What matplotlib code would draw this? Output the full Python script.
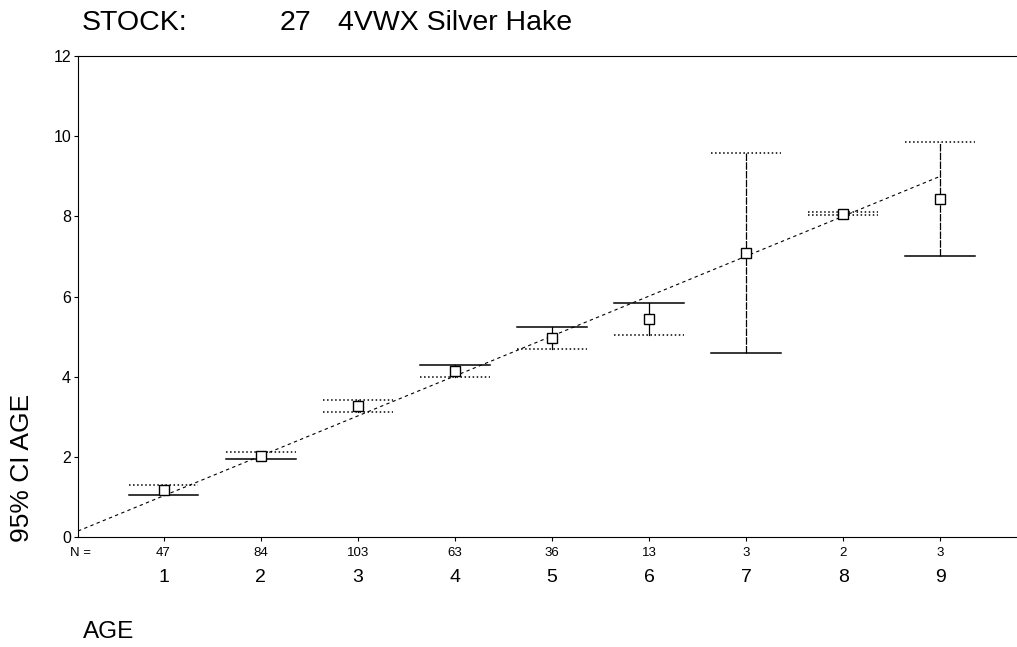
import matplotlib.pyplot as plt
import numpy as np

plt.rcParams['font.family'] = ['Liberation Sans', 'DejaVu Sans']

# Data
ages = [1, 2, 3, 4, 5, 6, 7, 8, 9]
n_counts = ["47", "84", "103", "63", "36", "13", "3", "2", "3"]
mean_age = [1.18, 2.03, 3.26, 4.13, 4.96, 5.43, 7.09, 8.07, 8.44]
ci_low = [1.05, 1.95, 3.13, 4.00, 4.68, 5.04, 4.58, 8.04, 7.00]
ci_high = [1.30, 2.11, 3.43, 4.28, 5.25, 5.83, 9.57, 8.10, 9.85]
# cap styles: upper, lower
upper_style = [":", ":", ":", "-", "-", "-", ":", ":", ":"]
lower_style = ["-", "-", ":", ":", ":", ":", "-", ":", "-"]
fit_x = [0.12, 9.0]
fit_y = [0.15, 9.0]

fig = plt.figure(figsize=(10.17, 6.47), dpi=100)
ax = fig.add_axes([0.0767, 0.170, 0.9233, 0.7434])

half = 0.36
for x, m, lo, hi, us, ls in zip(ages, mean_age, ci_low, ci_high, upper_style, lower_style):
    ax.plot([x, x], [lo, hi], color="black", lw=0.9, ls="-" if hi - lo < 1 else (0, (6, 1)))
    ax.plot([x - half, x + half], [hi, hi], color="black", lw=1.1, ls=us)
    ax.plot([x - half, x + half], [lo, lo], color="black", lw=1.1, ls=ls)
    ax.plot(x, m, marker="s", ms=7, mfc="white", mec="black", mew=1.0, zorder=5)

# regression line
ax.plot(fit_x, fit_y, color="black", lw=0.8, ls=(0, (3, 3)))

ax.set_xlim(0.119, 9.79)
ax.set_ylim(0, 12)
ax.set_yticks([0, 2, 4, 6, 8, 10, 12])
ax.set_xticks(ages)
ax.set_xticklabels([])
ax.tick_params(axis="y", labelsize=11.5, length=3, direction="out", pad=2)
ax.tick_params(axis="x", length=3, direction="out")
ax.spines["right"].set_visible(False)

for x, n in zip(ages, n_counts):
    ax.text(x, -0.25, n, ha="center", va="top", fontsize=9.5)
    ax.text(x, -0.8, str(x), ha="center", va="top", fontsize=14)
fig.text(70 / 1017, 1 - 553 / 647, "N =", ha="left", va="center", fontsize=9.5)

fig.text(82 / 1017, 0.964, "STOCK:", fontsize=20.5, va="center", ha="left")
fig.text(280 / 1017, 0.964, "27", fontsize=20.5, va="center", ha="left")
fig.text(338 / 1017, 0.964, "4VWX Silver Hake", fontsize=20.5, va="center", ha="left")
fig.text(83 / 1017, 1 - 632 / 647, "AGE", fontsize=17.5, va="center", ha="left")
fig.text(22 / 1017, 1 - 468 / 647, "95% CI AGE", fontsize=19, rotation=90, va="center", ha="center")

fig.savefig("out.png", dpi=100)
